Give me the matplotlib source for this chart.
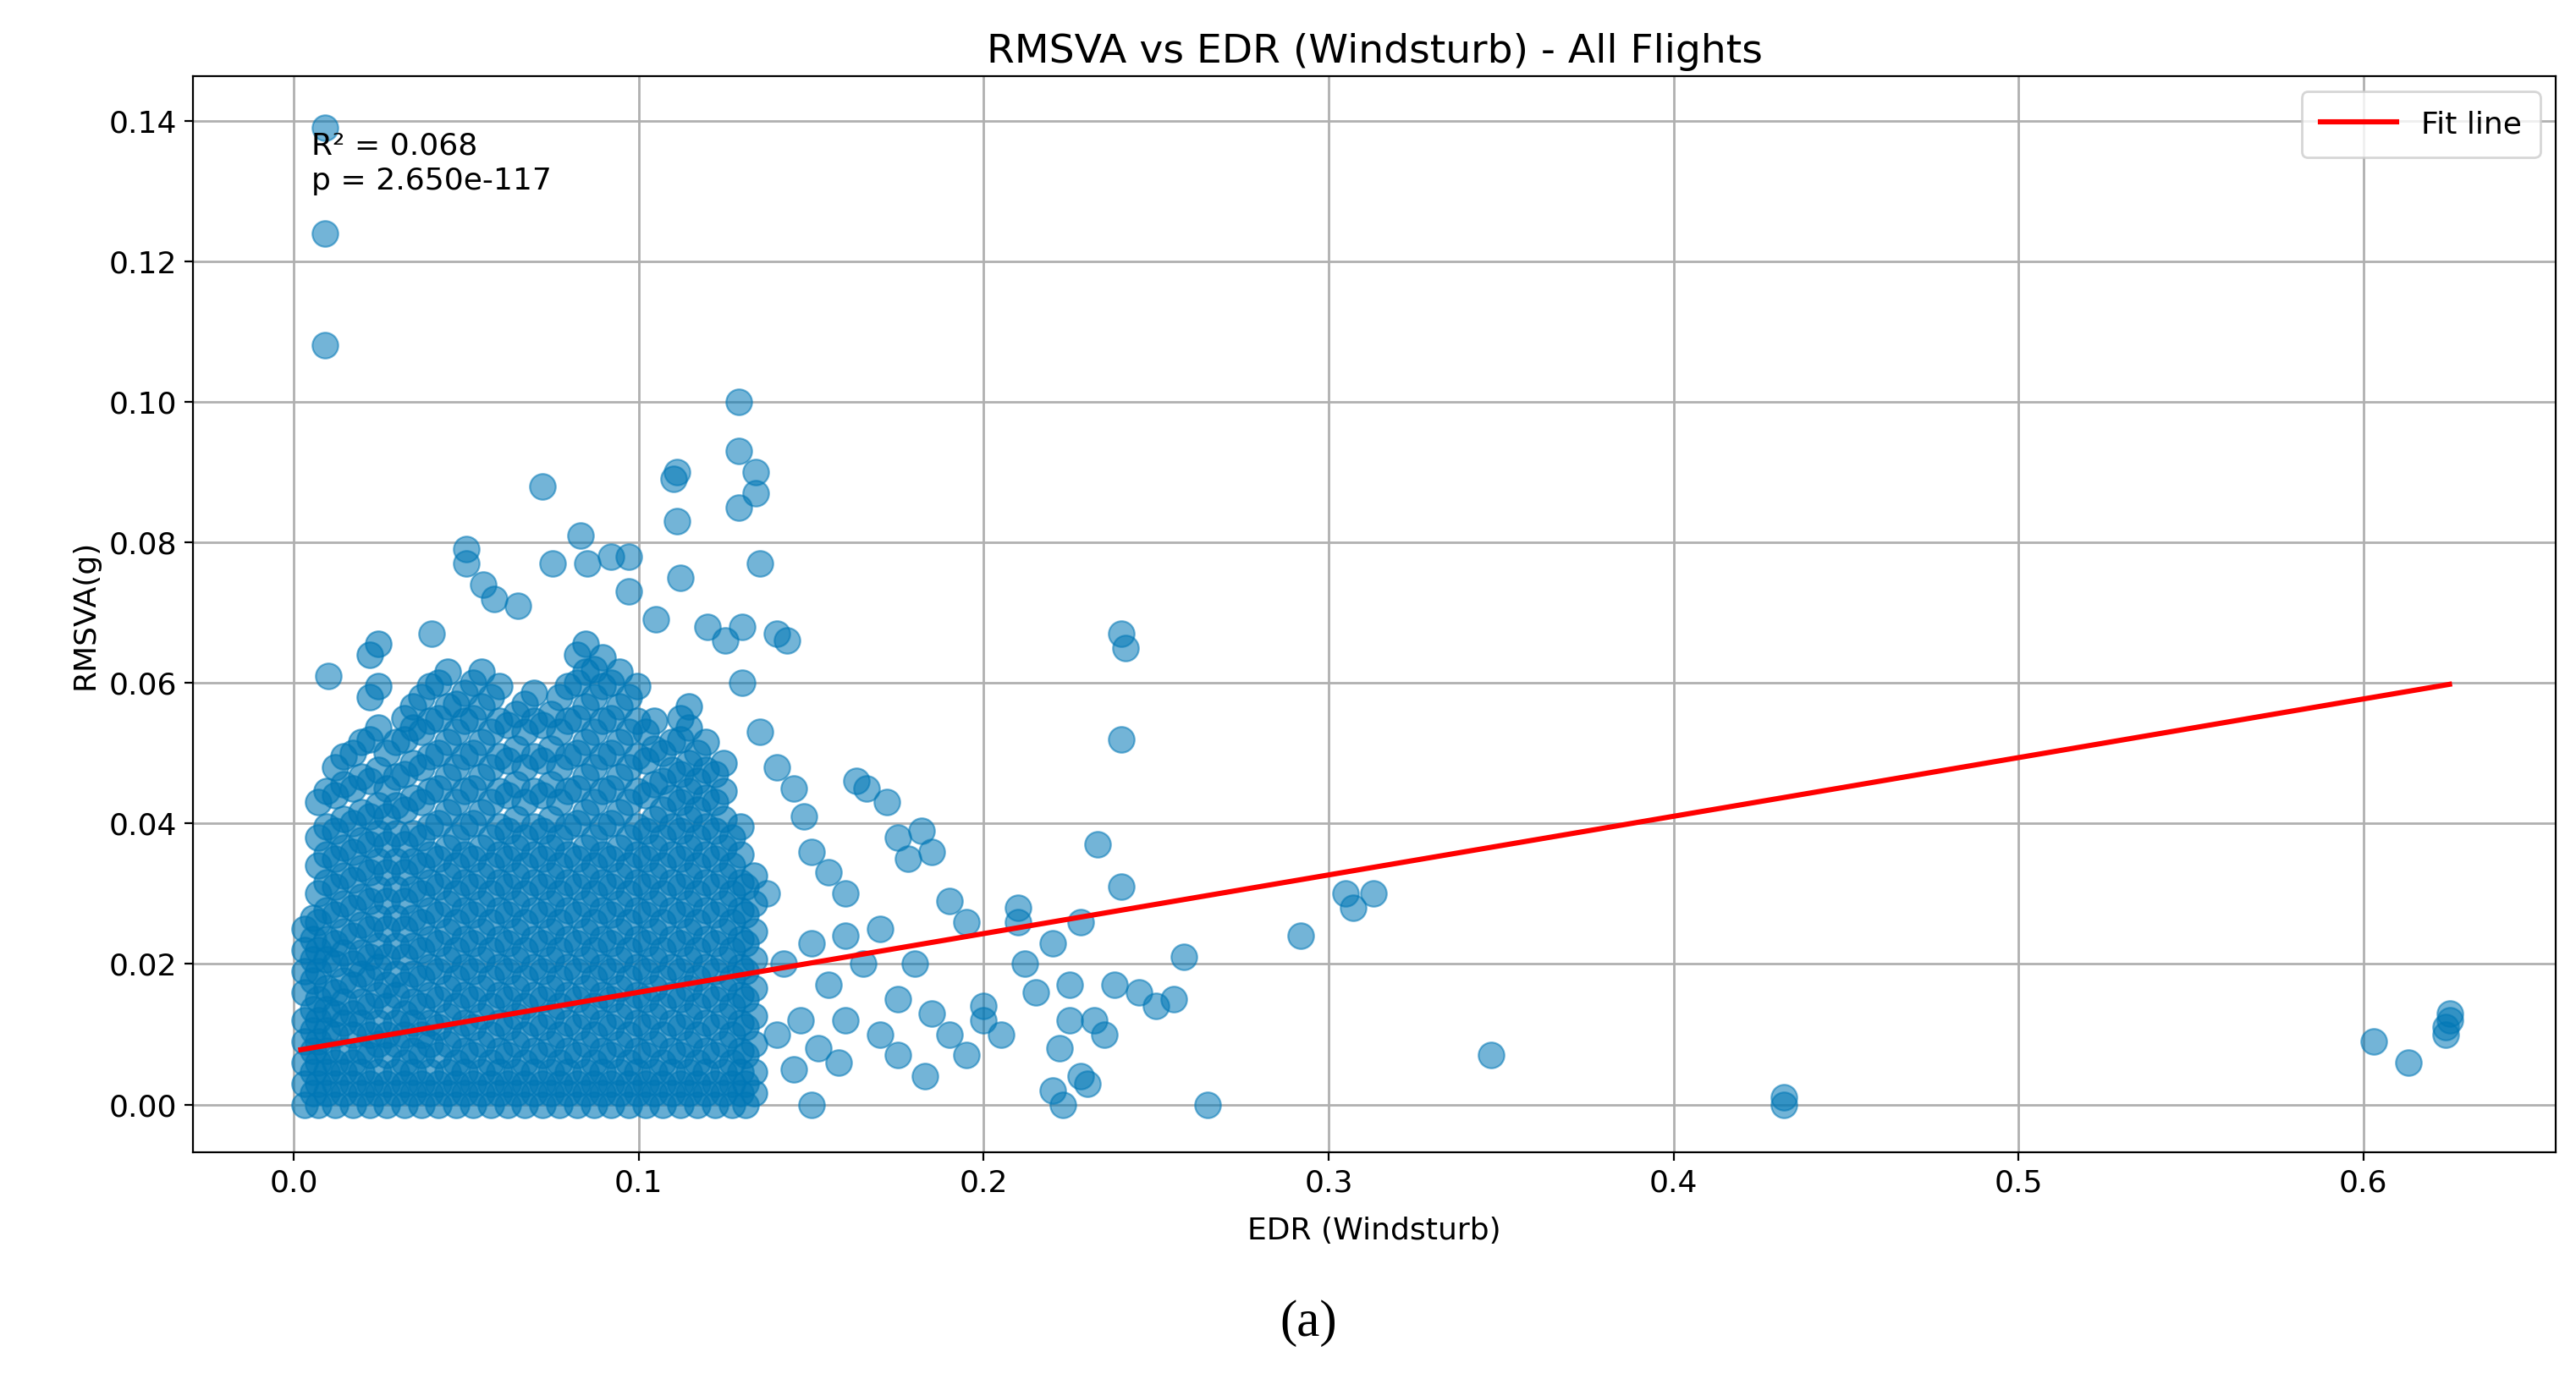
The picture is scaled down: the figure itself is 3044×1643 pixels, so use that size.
import numpy as np
import matplotlib.pyplot as plt

# dense cloud, written column by column (x -> list of y)
cloud_x = [0.003, 0.007, 0.012, 0.017, 0.022, 0.027, 0.032, 0.037, 0.042, 0.047, 0.052,
           0.057, 0.062, 0.067, 0.072, 0.077, 0.082, 0.087, 0.092, 0.097, 0.102, 0.107,
           0.112, 0.117, 0.122, 0.127, 0.131]
cloud_y = [
    [0.0, 0.003, 0.006, 0.009, 0.012, 0.016, 0.019, 0.022, 0.025],
    [0.0, 0.003, 0.006, 0.009, 0.012, 0.015, 0.019, 0.022, 0.026, 0.030, 0.034, 0.038, 0.043],
    [0.0, 0.003, 0.006, 0.01, 0.013, 0.016, 0.02, 0.023, 0.027, 0.031, 0.035, 0.039, 0.044, 0.048],
    [0.0, 0.003, 0.006, 0.01, 0.013, 0.017, 0.02, 0.024, 0.028, 0.032, 0.036, 0.04, 0.045, 0.05],
    [0.0, 0.003, 0.007, 0.01, 0.014, 0.018, 0.021, 0.025, 0.029, 0.033, 0.037, 0.041, 0.046, 0.052, 0.058, 0.064],
    [0.0, 0.003, 0.007, 0.01, 0.014, 0.017, 0.021, 0.025, 0.029, 0.033, 0.037, 0.041, 0.045, 0.05],
    [0.0, 0.003, 0.006, 0.01, 0.013, 0.017, 0.021, 0.025, 0.029, 0.033, 0.037, 0.042, 0.047, 0.052, 0.055],
    [0.0, 0.003, 0.007, 0.01, 0.014, 0.018, 0.022, 0.026, 0.03, 0.034, 0.038, 0.043, 0.048, 0.053, 0.058],
    [0.0, 0.003, 0.007, 0.011, 0.015, 0.019, 0.023, 0.027, 0.031, 0.035, 0.04, 0.045, 0.05, 0.055, 0.06],
    [0.0, 0.003, 0.006, 0.01, 0.014, 0.018, 0.022, 0.026, 0.03, 0.034, 0.038, 0.043, 0.048, 0.053, 0.057],
    [0.0, 0.003, 0.007, 0.011, 0.015, 0.019, 0.023, 0.027, 0.031, 0.035, 0.04, 0.045, 0.05, 0.055, 0.06],
    [0.0, 0.003, 0.006, 0.01, 0.014, 0.018, 0.022, 0.026, 0.03, 0.034, 0.038, 0.043, 0.048, 0.053, 0.058],
    [0.0, 0.003, 0.007, 0.011, 0.015, 0.019, 0.023, 0.027, 0.031, 0.035, 0.039, 0.044, 0.049, 0.054],
    [0.0, 0.003, 0.006, 0.01, 0.014, 0.018, 0.022, 0.026, 0.03, 0.034, 0.038, 0.043, 0.048, 0.053, 0.057],
    [0.0, 0.003, 0.007, 0.011, 0.015, 0.019, 0.023, 0.027, 0.031, 0.035, 0.039, 0.044, 0.049, 0.054],
    [0.0, 0.003, 0.006, 0.01, 0.014, 0.018, 0.022, 0.026, 0.03, 0.034, 0.038, 0.043, 0.048, 0.053, 0.058],
    [0.0, 0.003, 0.007, 0.011, 0.015, 0.019, 0.023, 0.027, 0.031, 0.035, 0.04, 0.045, 0.05, 0.055, 0.06, 0.064],
    [0.0, 0.003, 0.006, 0.01, 0.014, 0.018, 0.022, 0.026, 0.03, 0.034, 0.038, 0.043, 0.048, 0.053, 0.058, 0.062],
    [0.0, 0.003, 0.007, 0.011, 0.015, 0.019, 0.023, 0.027, 0.031, 0.035, 0.04, 0.045, 0.05, 0.055, 0.06],
    [0.0, 0.003, 0.006, 0.01, 0.014, 0.018, 0.022, 0.026, 0.03, 0.034, 0.038, 0.043, 0.048, 0.053, 0.058],
    [0.0, 0.003, 0.007, 0.011, 0.015, 0.019, 0.023, 0.027, 0.031, 0.035, 0.039, 0.044, 0.049, 0.053],
    [0.0, 0.003, 0.006, 0.01, 0.014, 0.018, 0.022, 0.026, 0.03, 0.034, 0.038, 0.042, 0.046, 0.05],
    [0.0, 0.003, 0.007, 0.011, 0.015, 0.019, 0.023, 0.027, 0.031, 0.035, 0.039, 0.043, 0.047, 0.052, 0.055],
    [0.0, 0.003, 0.006, 0.01, 0.014, 0.018, 0.022, 0.026, 0.03, 0.034, 0.038, 0.042, 0.046, 0.05],
    [0.0, 0.003, 0.007, 0.011, 0.015, 0.019, 0.023, 0.027, 0.031, 0.035, 0.039, 0.043, 0.047],
    [0.0, 0.003, 0.006, 0.01, 0.014, 0.018, 0.022, 0.026, 0.03, 0.034, 0.038],
    [0.0, 0.003, 0.007, 0.011, 0.015, 0.019, 0.023, 0.027, 0.031],
]

# scattered points outside the dense cloud
out_x = [0.009, 0.009, 0.009, 0.010, 0.129, 0.129, 0.134, 0.134, 0.129, 0.111, 0.110, 0.111,
         0.072, 0.083, 0.050, 0.050, 0.055, 0.075, 0.085, 0.092, 0.097, 0.097, 0.112, 0.135,
         0.105, 0.120, 0.125, 0.130, 0.140, 0.143, 0.065, 0.058, 0.040, 0.130, 0.135, 0.140,
         0.145, 0.148, 0.150, 0.155, 0.160, 0.163, 0.166, 0.172, 0.175, 0.178, 0.182, 0.185,
         0.190, 0.195, 0.170, 0.165, 0.155, 0.160, 0.170, 0.180, 0.185, 0.190, 0.195, 0.200,
         0.205, 0.210, 0.210, 0.212, 0.215, 0.220, 0.222, 0.220, 0.223, 0.225, 0.228, 0.230,
         0.232, 0.233, 0.235, 0.228, 0.225, 0.238, 0.240, 0.241, 0.240, 0.240, 0.245, 0.250,
         0.255, 0.258, 0.265, 0.292, 0.305, 0.307, 0.313, 0.347, 0.432, 0.432, 0.603, 0.613,
         0.625, 0.625, 0.624, 0.624, 0.150, 0.140, 0.145, 0.150, 0.158, 0.175, 0.183, 0.200,
         0.175, 0.160, 0.137, 0.142, 0.147, 0.152]
out_y = [0.139, 0.124, 0.108, 0.061, 0.100, 0.093, 0.090, 0.087, 0.085, 0.090, 0.089, 0.083,
         0.088, 0.081, 0.079, 0.077, 0.074, 0.077, 0.077, 0.078, 0.078, 0.073, 0.075, 0.077,
         0.069, 0.068, 0.066, 0.068, 0.067, 0.066, 0.071, 0.072, 0.067, 0.060, 0.053, 0.048,
         0.045, 0.041, 0.036, 0.033, 0.030, 0.046, 0.045, 0.043, 0.038, 0.035, 0.039, 0.036,
         0.029, 0.026, 0.025, 0.020, 0.017, 0.012, 0.010, 0.020, 0.013, 0.010, 0.007, 0.014,
         0.010, 0.028, 0.026, 0.020, 0.016, 0.023, 0.008, 0.002, 0.000, 0.012, 0.004, 0.003,
         0.012, 0.037, 0.010, 0.026, 0.017, 0.017, 0.067, 0.065, 0.052, 0.031, 0.016, 0.014,
         0.015, 0.021, 0.000, 0.024, 0.030, 0.028, 0.030, 0.007, 0.001, 0.000, 0.009, 0.006,
         0.013, 0.012, 0.011, 0.010, 0.000, 0.010, 0.005, 0.023, 0.006, 0.007, 0.004, 0.012,
         0.015, 0.024, 0.030, 0.020, 0.012, 0.008]

fit_x = [0.002, 0.625]
fit_y = [0.0078, 0.0598]

cx = np.array([x for x, col in zip(cloud_x, cloud_y) for _ in col])
cy = np.array([y for col in cloud_y for y in col])

blue = '#0077b6'
fig = plt.figure(figsize=(15.22, 8.215), dpi=200)
ax = fig.add_axes([0.075, 0.171, 0.917, 0.774])
# cloud drawn in two staggered layers so it reads as solid, like the original
ax.scatter(cx, cy, s=120, color=blue, alpha=0.6, linewidths=0.8, edgecolors=blue, zorder=2)
ax.scatter(cx + 0.0025, cy + 0.0016, s=120, color=blue, alpha=0.6, linewidths=0.8,
           edgecolors=blue, zorder=2)
ax.scatter(out_x, out_y, s=120, color=blue, alpha=0.55, linewidths=0.8, edgecolors=blue, zorder=2)
ax.plot(fit_x, fit_y, color='red', linewidth=2.2, label='Fit line', zorder=3)

ax.set_xlim(-0.0292, 0.6557)
ax.set_ylim(-0.0068, 0.1463)
ax.set_xticks([0.0, 0.1, 0.2, 0.3, 0.4, 0.5, 0.6])
ax.set_yticks(np.array([0, 2, 4, 6, 8, 10, 12, 14]) / 100)
ax.yaxis.set_major_formatter(plt.FormatStrFormatter('%.2f'))
ax.tick_params(labelsize=13)
ax.grid(True, color='#b0b0b0', linewidth=1)
ax.set_axisbelow(True)

ax.set_title('RMSVA vs EDR (Windsturb) - All Flights', fontsize=17, pad=6)
ax.set_xlabel('EDR (Windsturb)', fontsize=13, labelpad=8)
ax.set_ylabel('RMSVA(g)', fontsize=13)
ax.text(0.005, 0.1385, 'R² = 0.068\np = 2.650e-117', fontsize=13, va='top', linespacing=1.3)
ax.legend(loc='upper right', fontsize=13, borderpad=0.6, handlelength=2.5)

fig.text(0.508, 0.048, '(a)', fontsize=22, family='Liberation Serif', ha='center', va='center')

fig.savefig('out.png')
